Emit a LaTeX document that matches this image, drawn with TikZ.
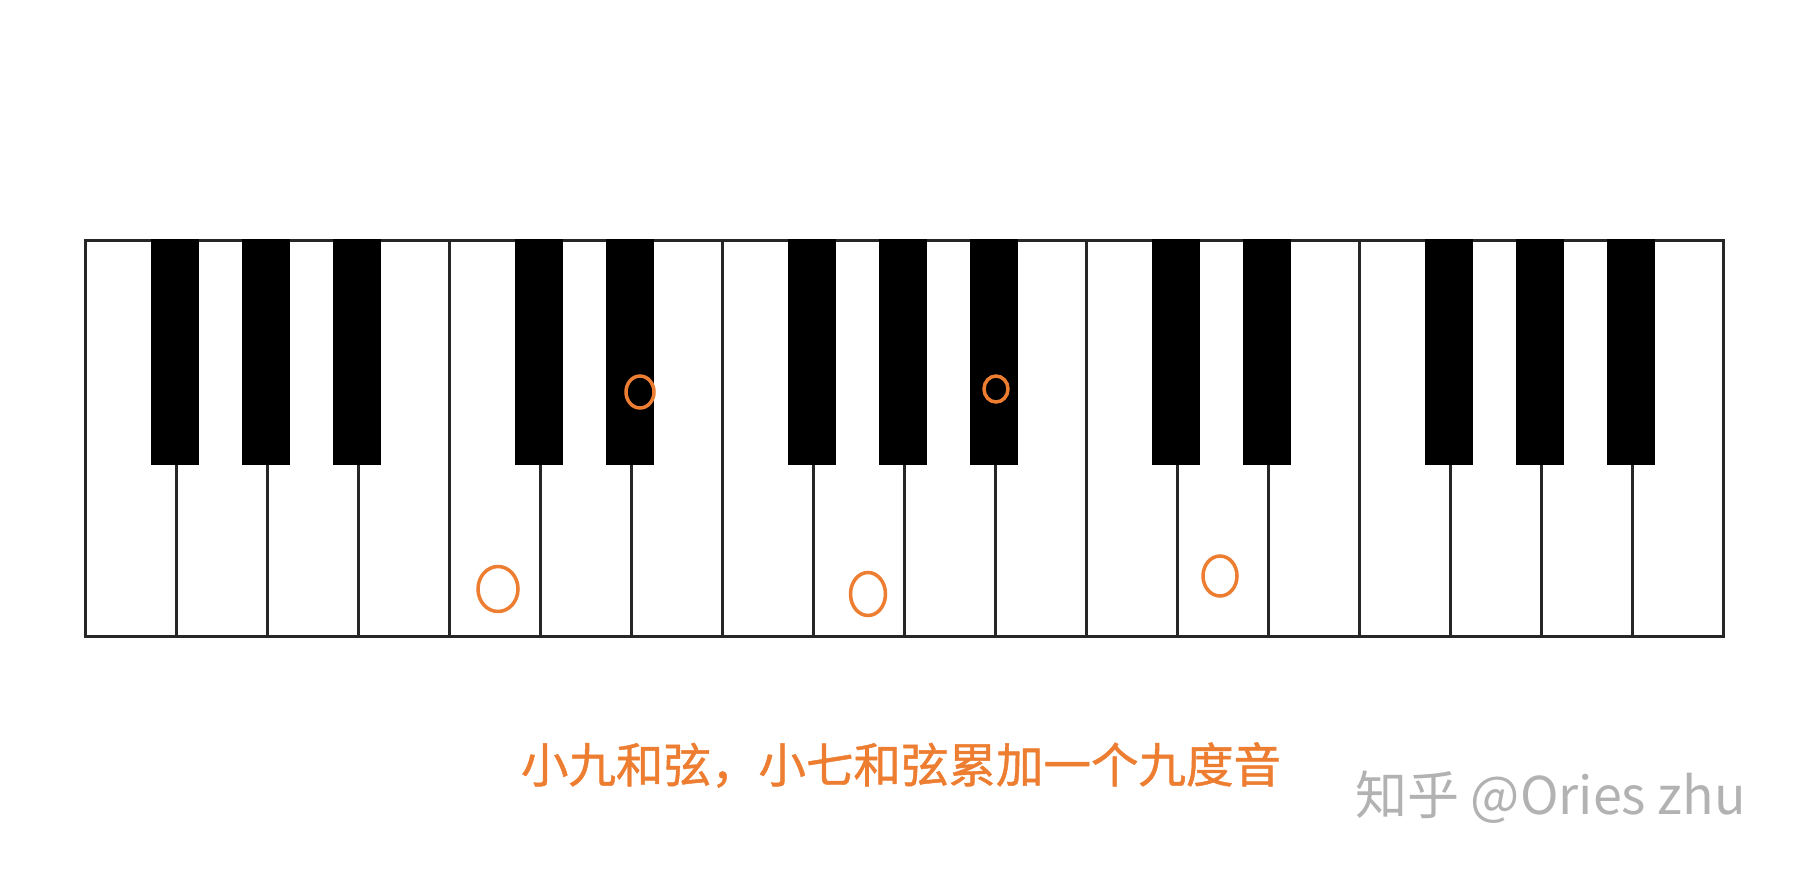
\documentclass[tikz,border=0pt]{standalone}
\usepackage{fontspec}
\newfontfamily\cjk{Noto Sans CJK SC}
\newfontfamily\cjkheavy[FakeBold=1]{Noto Sans CJK SC}
\usetikzlibrary{shapes.geometric}
\definecolor{notecolor}{HTML}{ED7D31}
\begin{document}
\begin{tikzpicture}[x=1pt, y=-1pt,
          whitekey/.style={draw=black!85, fill=white, line width=3pt, minimum width=91pt, minimum height=396pt, inner sep=0pt, anchor=north west},
          blackkey/.style={fill=black, minimum width=48pt, minimum height=226pt, inner sep=0pt, anchor=north},
          ring/.style={draw=notecolor, ellipse, line width=3.5pt, inner sep=0pt},
        ]
          \useasboundingbox (0,0) rectangle (1806,870);
          \foreach \k in {0,...,17}
            \node[whitekey] (w\k) at ({84+91*\k},239) {};
          \foreach \k in {1,2,3,5,6,8,9,10,12,13,15,16,17}
            \node[blackkey] (b\k) at ({84+91*\k},239) {};

          \node[ring, minimum width=40pt, minimum height=45pt] (n1) at (498,589) {};
          \node[ring, minimum width=28pt, minimum height=32pt] (n2) at (640,392) {};
          \node[ring, minimum width=35pt, minimum height=43pt] (n3) at (868,594) {};
          \node[ring, minimum width=24pt, minimum height=26pt] (n4) at (996,389) {};
          \node[ring, minimum width=34pt, minimum height=40pt] (n5) at (1220,576) {};

          \node[text=notecolor, font=\cjkheavy\fontsize{47.5}{50}\selectfont] (caption) at (901,765) {小九和弦，小七和弦累加一个九度音};
          \node[text=black!30, font=\cjk\fontsize{52}{55}\selectfont, anchor=west, inner sep=0pt] (mark) at (1355,797) {知乎 @Ories zhu};
        \end{tikzpicture}
\end{document}
